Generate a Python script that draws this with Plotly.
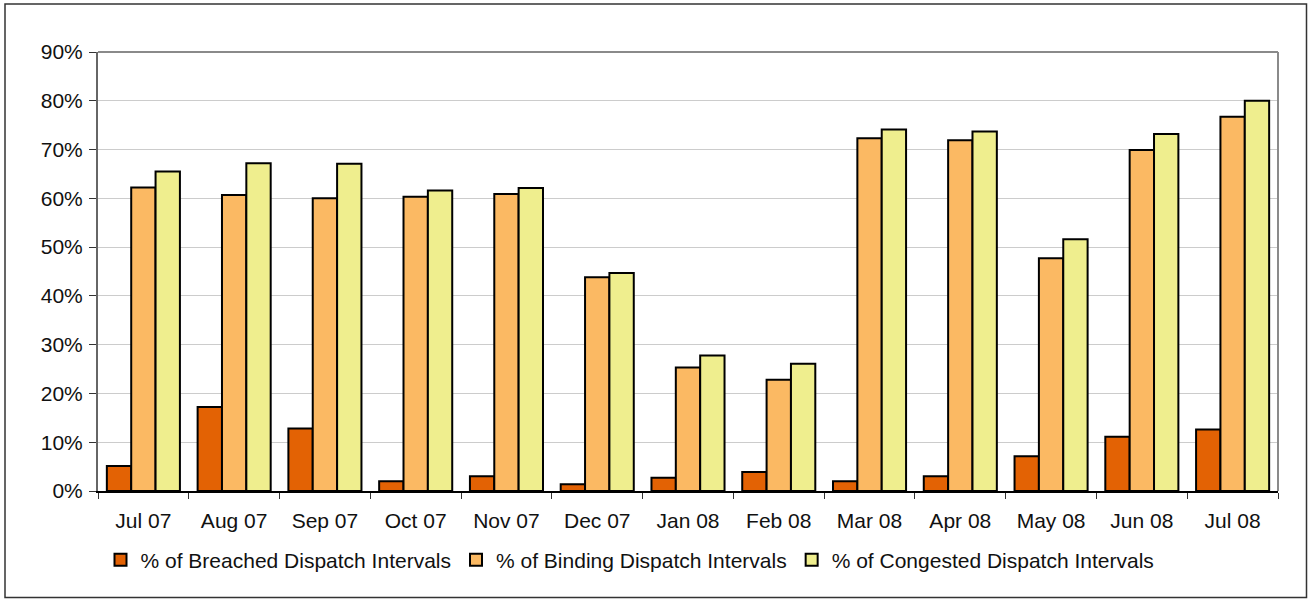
import plotly.graph_objects as go

# Monthly share of dispatch intervals (%)
months = ["Jul 07", "Aug 07", "Sep 07", "Oct 07", "Nov 07", "Dec 07", "Jan 08",
          "Feb 08", "Mar 08", "Apr 08", "May 08", "Jun 08", "Jul 08"]
breached = [5.1, 17.2, 12.8, 2.0, 3.0, 1.4, 2.7, 3.9, 2.0, 3.0, 7.1, 11.1, 12.6]
binding = [62.2, 60.7, 60.0, 60.3, 60.9, 43.8, 25.3, 22.8, 72.3, 71.9, 47.7, 69.9, 76.7]
congested = [65.5, 67.2, 67.1, 61.6, 62.1, 44.7, 27.8, 26.1, 74.1, 73.7, 51.6, 73.2, 80.0]

series = [
    ("% of Breached Dispatch Intervals", breached, "#E36204"),
    ("% of Binding Dispatch Intervals", binding, "#FBB963"),
    ("% of Congested Dispatch Intervals", congested, "#EFEE8E"),
]

FONT = "Liberation Sans, Arial, sans-serif"

fig = go.Figure()
for name, vals, colour in series:
    fig.add_trace(go.Bar(
        name=name, x=months, y=vals,
        marker=dict(color=colour, line=dict(color="#000000", width=2)),
    ))

W, H = 1308, 599
L, R, T, B = 98, 30, 52, 108
pw, ph = W - L - R, H - T - B

def px_x(v):
    return (v - L) / pw

def px_y(v):
    return (H - B - v) / ph

fig.update_layout(
    width=W, height=H,
    margin=dict(l=L, r=R, t=T, b=B),
    paper_bgcolor="white", plot_bgcolor="white",
    font=dict(family=FONT, size=21, color="#111111"),
    barmode="group", bargap=0.195, bargroupgap=0,
    showlegend=True,
    legend=dict(
        orientation="h", x=px_x(630), xanchor="center",
        y=px_y(560), yanchor="middle",
        font=dict(family=FONT, size=21, color="#111111"),
        itemsizing="constant", tracegroupgap=0, itemwidth=30,
        bgcolor="rgba(0,0,0,0)",
    ),
    xaxis=dict(
        type="category", tickson="boundaries", ticks="outside", ticklen=6,
        tickcolor="#333333", tickwidth=1, showgrid=False,
        showline=True, linecolor="#000000", linewidth=2,
        ticklabelstandoff=10,
        tickfont=dict(family=FONT, size=21, color="#111111"),
    ),
    yaxis=dict(
        range=[0, 90], dtick=10, ticksuffix="%", ticks="outside", ticklen=7,
        tickcolor="#333333", tickwidth=1,
        showgrid=True, gridcolor="#CCCCCC", gridwidth=1,
        showline=True, linecolor="#666666", linewidth=2,
        zeroline=False, ticklabelstandoff=2,
        tickfont=dict(family=FONT, size=21, color="#111111"),
    ),
    shapes=[
        # plot frame: top and right edges
        dict(type="line", xref="paper", yref="paper", x0=0, x1=1, y0=1, y1=1,
             line=dict(color="#8A8A8A", width=2)),
        dict(type="line", xref="paper", yref="paper", x0=1, x1=1, y0=0, y1=1,
             line=dict(color="#8A8A8A", width=2)),
        # outer chart border
        dict(type="rect", xref="paper", yref="paper",
             x0=px_x(5), x1=px_x(1306.5), y0=px_y(597.5), y1=px_y(4),
             line=dict(color="#333333", width=1.5), layer="below"),
    ],
)

fig.write_html("out.html")
